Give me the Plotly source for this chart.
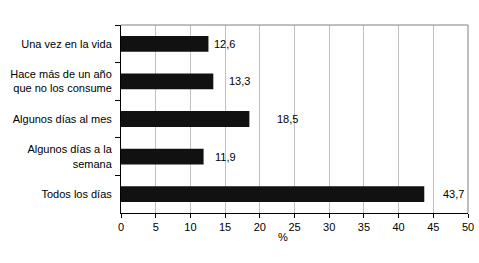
import plotly.graph_objects as go

categories = ["Una vez en la vida", "Hace más de un año<br>que no los consume", "Algunos días al mes",
              "Algunos días a la<br>semana", "Todos los días"]
values = [12.6, 13.3, 18.5, 11.9, 43.7]
value_labels = ["12,6", "13,3", "18,5", "11,9", "43,7"]
label_shifts = [4, 14, 26, 9, 17]
x_ticks = [0, 5, 10, 15, 20, 25, 30, 35, 40, 45, 50]

font = dict(family="Liberation Sans, Arial, sans-serif", size=11, color="#000000")

fig = go.Figure()
fig.add_trace(go.Bar(
    x=values, y=categories, orientation="h",
    marker=dict(color="#111111", line=dict(width=0)),
    width=0.42, showlegend=False, hoverinfo="skip",
))

for cat, v, lab, s in zip(categories, values, value_labels, label_shifts):
    fig.add_annotation(x=v, y=cat, xref="x", yref="y", text=lab, showarrow=False,
                       xanchor="left", yanchor="middle", xshift=s, font=font)

fig.add_annotation(x=0.467, y=-0.125, xref="paper", yref="paper", text="%", showarrow=False,
                   xanchor="center", yanchor="middle", font=font)

fig.update_layout(
    width=479, height=263,
    margin=dict(l=121, r=11, t=25, b=50, autoexpand=False),
    paper_bgcolor="white", plot_bgcolor="white",
    font=font,
    xaxis=dict(range=[0, 50], tickvals=x_ticks, ticktext=[str(t) for t in x_ticks],
               showgrid=True, gridcolor="#c0c0c0", gridwidth=1,
               showline=True, linecolor="#000000", linewidth=1,
               ticks="outside", ticklen=4, tickcolor="#000000",
               zeroline=False, mirror=False, fixedrange=True, tickfont=font,
               automargin=False),
    yaxis=dict(autorange="reversed", type="category",
               showline=True, linecolor="#000000", linewidth=1,
               ticks="outside", ticklen=5, tickcolor="#000000", tickson="boundaries",
               showgrid=False, ticklabelstandoff=6, tickfont=font, automargin=False,
               fixedrange=True),
    shapes=[
        dict(type="line", xref="paper", yref="paper", x0=0, x1=1, y0=1, y1=1,
             line=dict(color="#808080", width=1)),
        dict(type="line", xref="paper", yref="paper", x0=1, x1=1, y0=0, y1=1,
             line=dict(color="#808080", width=1)),
    ],
)

fig.write_html("out.html", config={"displayModeBar": False, "staticPlot": True},
               post_script="document.body.style.margin='0px';document.body.style.overflow='hidden';")
